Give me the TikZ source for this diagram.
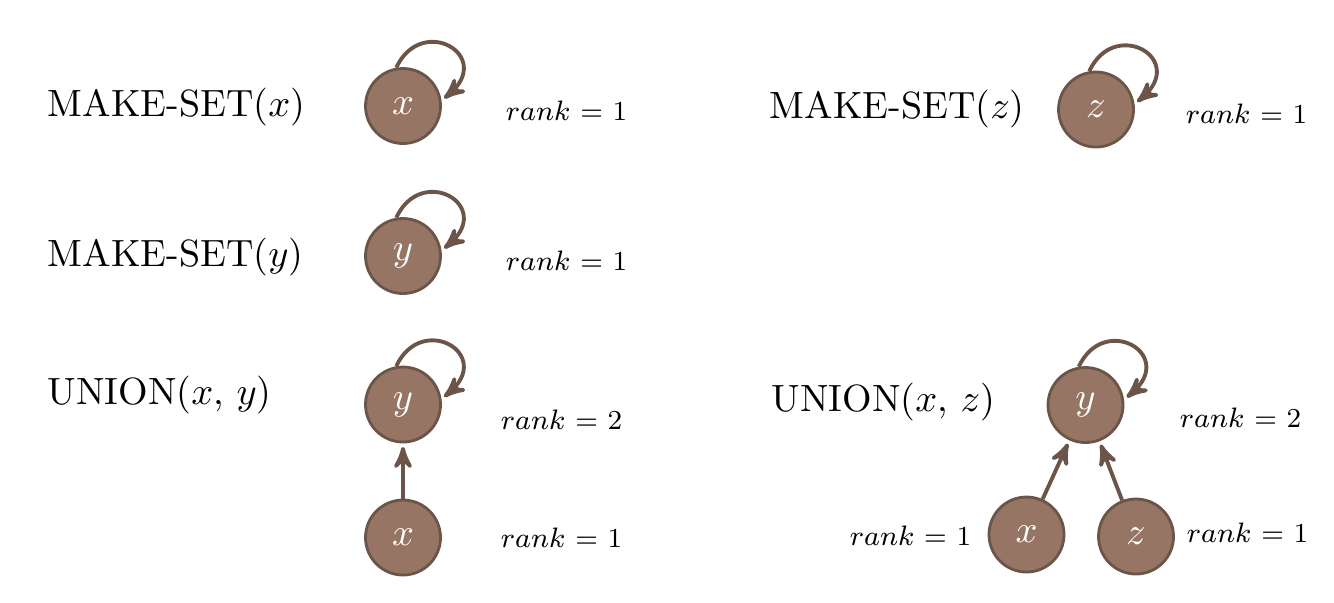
\documentclass[tikz,border=0pt]{standalone}
\usepackage{amsmath}
\usepackage{amssymb}
\usepackage{tikz}
\usetikzlibrary{arrows,automata,positioning}

\definecolor{nodebrown}{RGB}{150,117,100}
\definecolor{edgebrown}{RGB}{107,85,72}

\begin{document}
\begin{tikzpicture}[->,>=stealth',shorten >=1pt,auto,node distance=2.2cm, line width=1.1pt, draw=edgebrown]

    \tikzstyle{every state}=[fill=nodebrown,draw=edgebrown,text=white,minimum size=0.75cm,inner sep=0pt,line width=0.8pt,font=\fontsize{11}{13}\selectfont]
    \tikzstyle{op}=[anchor=west,inner sep=0pt,font=\fontsize{10.8}{13}\selectfont]
    \tikzstyle{rk}=[anchor=west,inner sep=0pt,font=\fontsize{7.8}{10}\selectfont]

    \useasboundingbox (0,0) rectangle (13.34,-6.02);

    % left column
    \node[op] (mkx) at (0.46,-1.07) {MAKE-SET($x$)};
    \node[state] (x1) at (4.03,-1.06) {$x$};
    \node[rk] (rx1) at (5.04,-1.11) {$rank$ = 1};

    \node[op] (mky) at (0.46,-2.57) {MAKE-SET($y$)};
    \node[state] (y1) at (4.03,-2.56) {$y$};
    \node[rk] (ry1) at (5.04,-2.61) {$rank$ = 1};

    \node[op] (unxy) at (0.46,-3.95) {UNION($x$, $y$)};
    \node[state] (y2) at (4.03,-4.045) {$y$};
    \node[state] (x2) at (4.03,-5.375) {$x$};
    \node[rk] (ry2) at (4.99,-4.20) {$rank$ = 2};
    \node[rk] (rx2) at (4.99,-5.38) {$rank$ = 1};

    % right column
    \node[op] (mkz) at (7.68,-1.09) {MAKE-SET($z$)};
    \node[state] (z1) at (10.96,-1.095) {$z$};
    \node[rk] (rz1) at (11.84,-1.14) {$rank$ = 1};

    \node[op] (unxz) at (7.70,-4.02) {UNION($x$, $z$)};
    \node[state] (y3) at (10.855,-4.05) {$y$};
    \node[state] (x3) at (10.265,-5.345) {$x$};
    \node[state] (z3) at (11.36,-5.365) {$z$};
    \node[rk] (ry3) at (11.78,-4.18) {$rank$ = 2};
    \node[rk, anchor=east] (rx3) at (9.73,-5.36) {$rank$ = 1};
    \node[rk] (rz3) at (11.85,-5.325) {$rank$ = 1};

    % self loops
    \draw (x1.100) .. controls +(65:0.6) and +(40:0.7) .. (x1.8);
    \draw (y1.100) .. controls +(65:0.6) and +(40:0.7) .. (y1.8);
    \draw (y2.100) .. controls +(65:0.6) and +(40:0.7) .. (y2.8);
    \draw (z1.100) .. controls +(65:0.6) and +(40:0.7) .. (z1.8);
    \draw (y3.100) .. controls +(65:0.6) and +(40:0.7) .. (y3.8);

    \path (x2) edge (y2)
          (x3) edge (y3)
          (z3) edge (y3)
    ;
\end{tikzpicture}
\end{document}
